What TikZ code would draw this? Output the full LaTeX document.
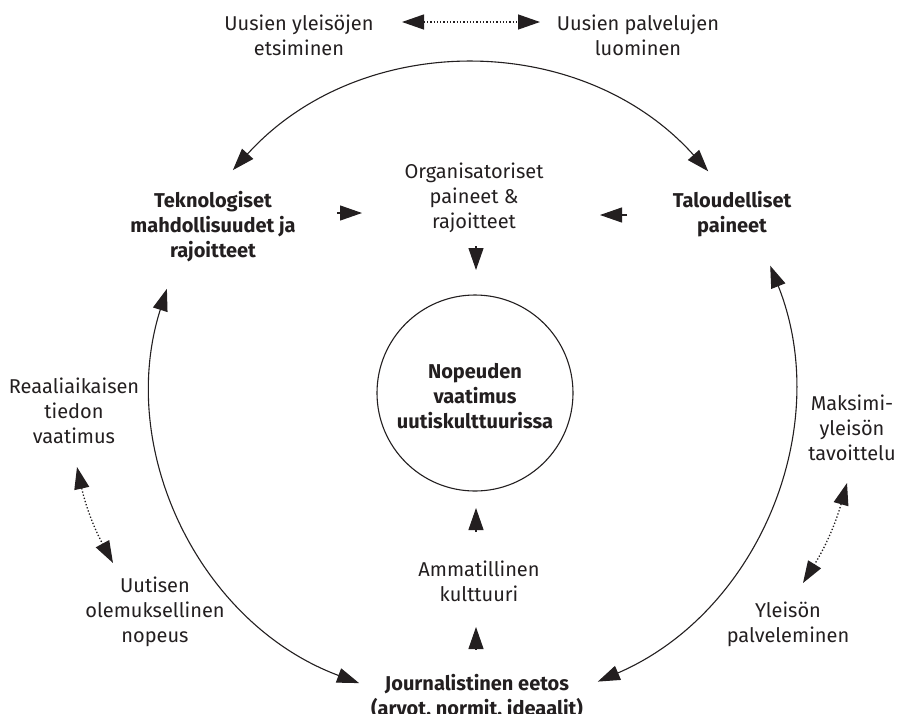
\documentclass[tikz,border=0pt]{standalone}
\usepackage{fontspec}
\setmainfont{Fira Sans}
\usetikzlibrary{arrows.meta}
\definecolor{ink}{HTML}{231F20}
\begin{document}
\begin{tikzpicture}[x=1pt,y=-1pt,
  >={Triangle[length=22pt,width=15pt]},
  lbl/.style={align=center, text=ink, inner sep=0pt, font=\fontsize{20}{25}\selectfont},
  blbl/.style={align=center, text=ink, inner sep=0pt, font=\fontsize{20}{25}\selectfont\bfseries},
  bigarc/.style={draw=ink, line width=1.1pt, <->},
  dotarrow/.style={draw=ink, line width=1.3pt, dotted, <->},
  small/.style={draw=ink, line width=1.1pt, ->}]
\useasboundingbox (0,0) rectangle (897,713);
\fill[white] (0,0) rectangle (897,713);

% labels
\node[lbl]  (yleis)  at (299,35.5) {Uusien yleisöjen\\etsiminen};
\node[lbl]  (palv)   at (638,35.5) {Uusien palvelujen\\luominen};
\node[blbl] (tekno)  at (213,227)  {Teknologiset\\mahdollisuudet ja\\rajoitteet};
\node[lbl]  (org)    at (474,198)  {Organisatoriset\\paineet \&\\rajoitteet};
\node[blbl] (talous) at (732,214.5){Taloudelliset\\paineet};
\node[draw=ink, line width=1.1pt, circle, minimum size=196pt, inner sep=0pt] (circ) at (475,393) {};
\node[blbl] (nop)    at (475,396)  {Nopeuden\\vaatimus\\uutiskulttuurissa};
\node[lbl]  (reaali) at (74,411)   {Reaaliaikaisen\\tiedon\\vaatimus};
\node[lbl]  (uutisen) at (155,612) {Uutisen\\olemuksellinen\\nopeus};
\node[lbl]  (maks)   at (852,428)  {Maksimi-\\yleisön\\tavoittelu};
\node[lbl]  (ypalv)  at (788,624.5){Yleisön\\palveleminen};
\node[lbl]  (ammat)  at (479,581.5){Ammatillinen\\kulttuuri};
\node[blbl] (journ)  at (477,696.5){Journalistinen eetos\\(arvot, normit, ideaalit)};

% arc end points
\coordinate (topL) at (232.9,170.1);
\coordinate (topR) at (708.2,171.3);
\coordinate (lefT) at (166.9,288.8);
\coordinate (lefB) at (359.1,683.1);
\coordinate (rigT) at (770.2,265.7);
\coordinate (rigB) at (597.8,681.6);

\draw[bigarc] (topL) .. controls (360.3,29.6) and (581.5,30.1) .. (topR);
\draw[bigarc] (lefB) .. controls (200.1,624.0) and (115.6,450.5) .. (lefT);
\draw[bigarc] (rigT) .. controls (834.7,428.1) and (758.3,612.4) .. (rigB);

% dotted double arrows
\coordinate (d1a) at (402,22);   \coordinate (d1b) at (540,22);
\coordinate (d2a) at (77,467);   \coordinate (d2b) at (113,563);
\coordinate (d3a) at (847,483);  \coordinate (d3b) at (803,583);
\draw[dotarrow] (d1a) -- (d1b);
\draw[dotarrow] (d2a) to[bend right=8] (d2b);
\draw[dotarrow] (d3a) to[bend left=8] (d3b);

% small arrows
\coordinate (s1a) at (337,213);  \coordinate (s1b) at (362,213);
\coordinate (s2a) at (627,215);  \coordinate (s2b) at (600,215);
\coordinate (s3a) at (476,246);  \coordinate (s3b) at (476,270);
\coordinate (s4a) at (476,532);  \coordinate (s4b) at (476,508);
\coordinate (s5a) at (476,649);  \coordinate (s5b) at (476,627);
\draw[small] (s1a) -- (s1b);
\draw[small] (s2a) -- (s2b);
\draw[small] (s3a) -- (s3b);
\draw[small] (s4a) -- (s4b);
\draw[small] (s5a) -- (s5b);
\end{tikzpicture}
\end{document}
